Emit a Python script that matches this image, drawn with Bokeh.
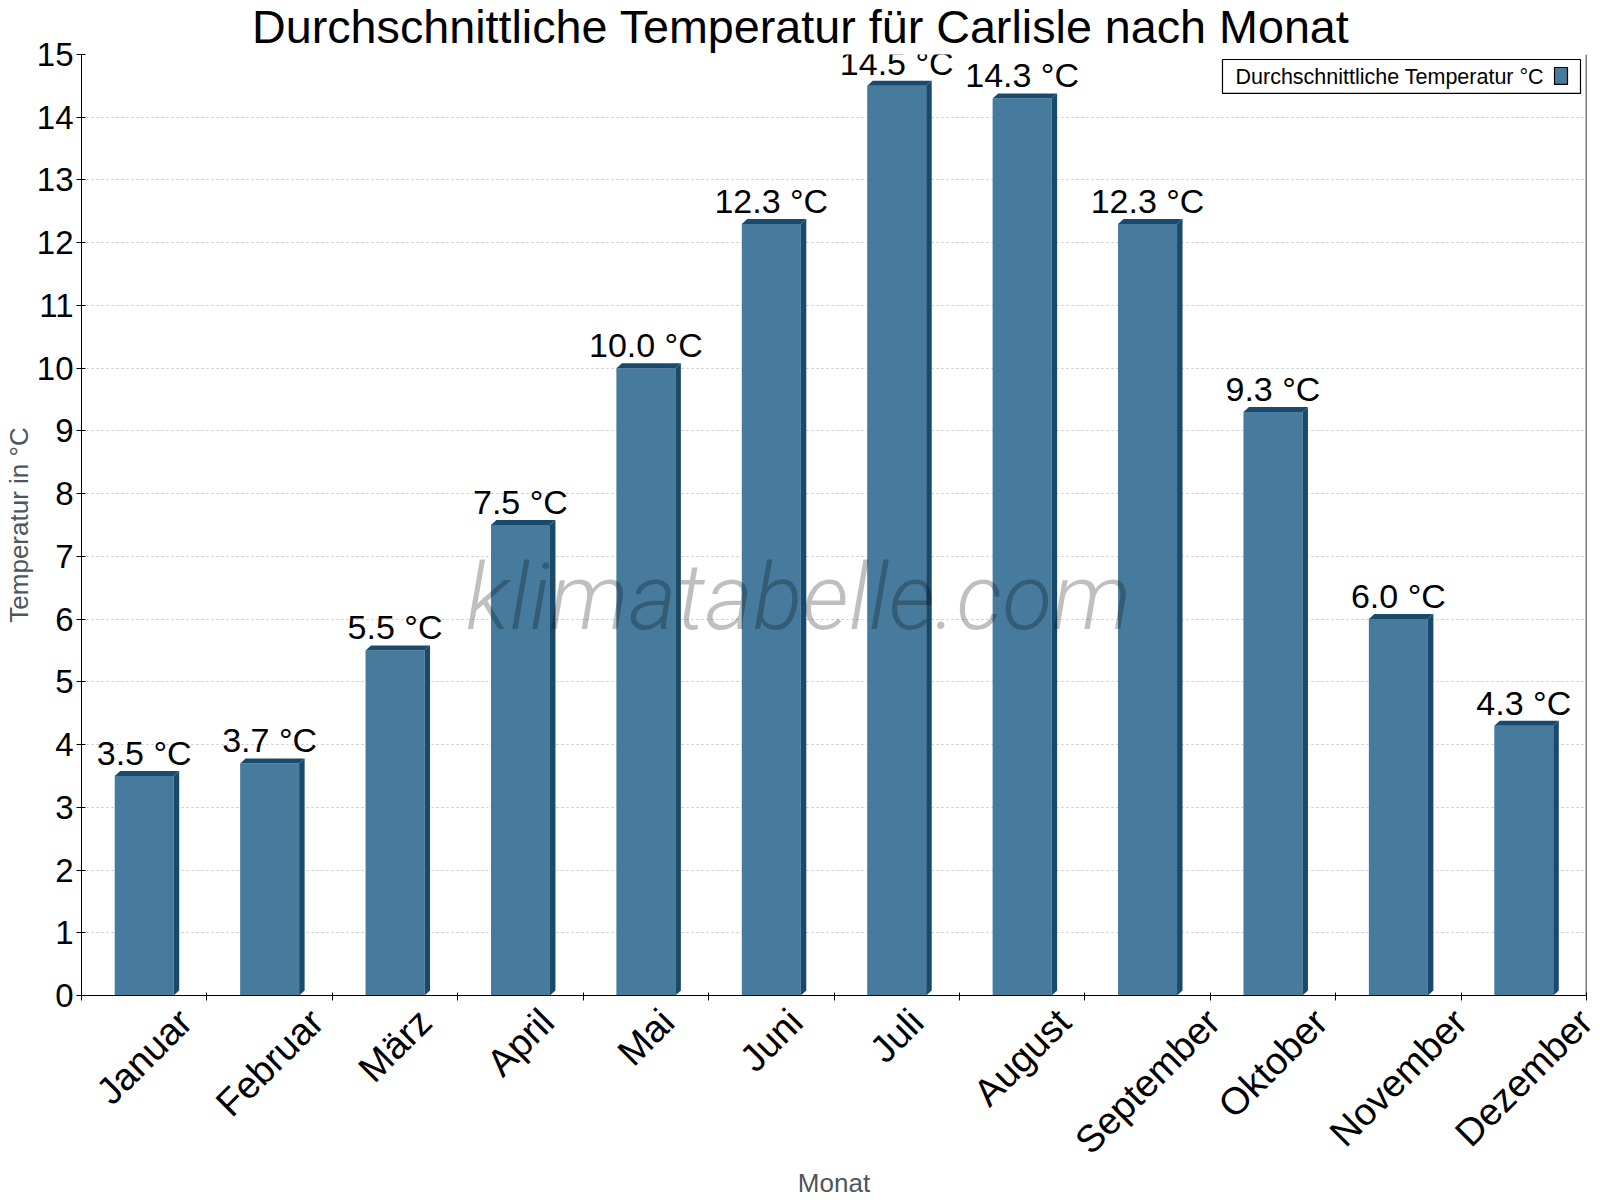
import math
from bokeh.plotting import figure
from bokeh.models import (Range1d, FixedTicker, CustomJSTickFormatter, LabelSet, Label,
                          BoxAnnotation, Span, ColumnDataSource)
from bokeh.core.properties import value
from bokeh.embed import file_html
from bokeh.resources import INLINE

# ---- data ----
months = ["Januar", "Februar", "März", "April", "Mai", "Juni", "Juli",
          "August", "September", "Oktober", "November", "Dezember"]
temps = [3.5, 3.7, 5.5, 7.5, 10.0, 12.3, 14.5, 14.3, 12.3, 9.3, 6.0, 4.3]
y_ticks = list(range(0, 16))
title_text = "Durchschnittliche Temperatur für Carlisle nach Monat"
series_name = "Durchschnittliche Temperatur °C"
x_title = "Monat"
y_title = "Temperatur in °C"
watermark = "klimatabelle.com"

# ---- layout constants (pixels) ----
W, H = 1600, 1200
ML, MR, MT, MB = 81, 14, 53, 205
FW, FH = W - ML - MR, H - MT - MB
N = len(months)
YMAX = 15
PX = FW / N          # px per category
PY = FH / YMAX       # px per degree

def dx(px):
    return px / PX

def dy(px):
    return px / PY

def X(ref_px):   # image x -> data
    return (ref_px - ML) / PX

def Y(ref_px):   # image y -> data
    return (MT + FH - ref_px) / PY

FRONT = "#467b9d"
DARK = "#1a4a6b"
FONT = "Liberation Sans"
XLAB_PX = 38
TITLE_PX = 46.7

# approximate advance widths (1/1000 em) of Liberation Sans, used for centring
ADV = {"J": 500, "a": 556, "n": 556, "u": 556, "r": 333, "F": 611, "e": 556, "b": 556,
       "M": 833, "ä": 556, "z": 500, "A": 667, "p": 556, "i": 222, "l": 222, "g": 556,
       "s": 500, "t": 278, "S": 667, "m": 833, "O": 778, "k": 500, "o": 556, "N": 722,
       "v": 500, "D": 722, "c": 500, "h": 556, " ": 278, "T": 611, "f": 278, "ü": 556,
       "C": 722}

def text_w(s, size):
    return sum(ADV.get(ch, 556) for ch in s) * size / 1000

p = figure(width=W, height=H, output_backend="svg", toolbar_location=None,
           x_range=Range1d(0, N), y_range=Range1d(0, YMAX),
           min_border_left=ML, min_border_right=MR, min_border_top=MT, min_border_bottom=MB,
           background_fill_color="white", border_fill_color="white")
p.outline_line_color = None

# title
p.title.text = title_text
p.title.text_font = FONT
p.title.text_font_size = f"{TITLE_PX}px"
p.title.text_font_style = "normal"
p.title.text_color = "black"
p.title.align = "left"
p.title.vertical_align = "top"
p.title.offset = 803 - text_w(title_text, TITLE_PX) / 2 - ML
p.title.standoff = 0

centers = [i + 0.5 for i in range(N)]
bw = dx(59) / 2
ddx, ddy = dx(5.5), dy(5)

# front faces
p.vbar(x=centers, width=2 * bw, top=temps, bottom=0, fill_color=FRONT, line_color=None)
# side faces
p.patches(xs=[[c + bw, c + bw + ddx, c + bw + ddx, c + bw] for c in centers],
          ys=[[v, v + ddy, ddy, 0] for v in temps],
          fill_color=DARK, line_color=None)
# top faces
p.patches(xs=[[c - bw, c - bw + ddx, c + bw + ddx, c + bw] for c in centers],
          ys=[[v, v + ddy, v + ddy, v] for v in temps],
          fill_color=DARK, line_color=None)

# value labels
src = ColumnDataSource(dict(x=centers, y=[v + dy(11) for v in temps],
                            t=[f"{v:.1f} °C" for v in temps]))
p.add_layout(LabelSet(x="x", y="y", text="t", source=src, text_align="center",
                      text_baseline="alphabetic", text_font=value(FONT),
                      text_font_size=value("34px"), text_color="black", level="overlay"))

# axes
yax = p.yaxis[0]
yax.ticker = FixedTicker(ticks=y_ticks)
yax.axis_label = y_title
yax.axis_label_text_font = FONT
yax.axis_label_text_font_size = "26px"
yax.axis_label_text_font_style = "normal"
yax.axis_label_text_color = "#4d555d"
yax.axis_label_standoff = 0
yax.major_label_text_font = FONT
yax.major_label_text_font_size = "33px"
yax.major_label_text_color = "black"
yax.major_label_standoff = 3
yax.major_tick_out = 5
yax.major_tick_in = 4
yax.minor_tick_line_color = None
yax.axis_line_color = "black"
yax.major_tick_line_color = "black"

# rotated month labels: shift each anchor so the label is centred on its month
label_ticks = [c + 0.5 * text_w(m, XLAB_PX) * math.cos(math.pi / 4) / PX
               for c, m in zip(centers, months)]
xax = p.xaxis[0]
xax.ticker = FixedTicker(ticks=label_ticks, minor_ticks=list(range(N + 1)))
xax.formatter = CustomJSTickFormatter(
    args=dict(months=months, pos=label_ticks),
    code="let best = 0; for (let i = 0; i < pos.length; i++) { if (Math.abs(pos[i] - tick) < Math.abs(pos[best] - tick)) best = i; } return months[best];")
xax.major_label_orientation = math.pi / 4
xax.major_label_text_font = FONT
xax.major_label_text_font_size = f"{XLAB_PX}px"
xax.major_label_text_color = "black"
xax.major_label_standoff = 15
xax.major_tick_line_color = None
xax.major_tick_out = 0
xax.major_tick_in = 0
xax.minor_tick_line_color = "black"
xax.minor_tick_in = 3
xax.minor_tick_out = 5
xax.axis_line_color = "black"
xax.axis_label = x_title
xax.axis_label_text_font = FONT
xax.axis_label_text_font_size = "26px"
xax.axis_label_text_font_style = "normal"
xax.axis_label_text_color = "#4d555d"
xax.axis_label_standoff = -12

p.xgrid.grid_line_color = None
p.ygrid.ticker = FixedTicker(ticks=y_ticks[1:])
p.ygrid.grid_line_color = "#c4c4c4"
p.ygrid.grid_line_dash = "2 3"
p.ygrid.grid_line_width = 1

# right border line
p.add_layout(Span(location=N, dimension="height", line_color="black", line_width=1.5))

# watermark
p.add_layout(Label(x=X(798), y=Y(597), text=watermark, text_align="center",
                   text_baseline="alphabetic", text_font="Roboto Light",
                   text_font_style="italic", text_font_size="92px",
                   text_color="black", text_alpha=0.25))

# legend (swatch right of text)
p.add_layout(BoxAnnotation(left=X(1222), right=X(1580), top=Y(58), bottom=Y(92),
                           fill_color="white", fill_alpha=1, line_color="black",
                           line_width=1.2, line_alpha=1))
p.add_layout(Label(x=X(1235), y=Y(75.5), text=series_name, text_align="left",
                   text_baseline="middle", text_font=FONT, text_font_size="21.5px",
                   text_color="black"))
p.add_layout(BoxAnnotation(left=X(1554), right=X(1567), top=Y(66), bottom=Y(83),
                           fill_color=FRONT, fill_alpha=1, line_color="black",
                           line_width=1.2, line_alpha=1))

open("out.html", "w").write(file_html(p, INLINE))
